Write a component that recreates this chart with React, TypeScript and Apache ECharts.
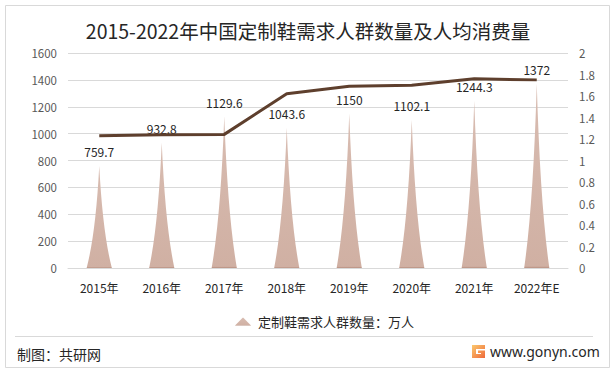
import React, { useEffect, useRef } from "react";
import * as echarts from "echarts";

const categories = ["2015年", "2016年", "2017年", "2018年", "2019年", "2020年", "2021年", "2022年E"];
const demandValues = [759.7, 932.8, 1129.6, 1043.6, 1150, 1102.1, 1244.3, 1372];
const perCapitaValues = [1.23, 1.24, 1.243, 1.62, 1.69, 1.70, 1.76, 1.75];
const leftTicks = { min: 0, max: 1600, interval: 200 };
const rightTicks = { min: 0, max: 2, interval: 0.2 };
const barName = "定制鞋需求人群数量：万人";
const lineName = "人均消费量";

const CJK = "'Noto Sans CJK SC', 'Noto Sans', sans-serif";

export default function App() {
  const ref = useRef<HTMLDivElement>(null);
  useEffect(() => {
    if (!ref.current) return;
    echarts.graphic.registerShape(
      "gonynLogo",
      echarts.graphic.extendPath("M0,0 H13 V4 H4 V9 H9 V8 H6 V5.5 H13 V13 H0 Z", {})
    );
    const chart = echarts.init(ref.current, null, { renderer: "svg" });
    const spike = "path://M0,100 Q36,66 50,0 Q64,66 100,100 Z";
    chart.setOption({
      animation: false,
      backgroundColor: "#ffffff",
      title: {
        text: "2015-2022年中国定制鞋需求人群数量及人均消费量",
        left: "center",
        top: 16,
        textStyle: { fontFamily: CJK, fontSize: 19.5, fontWeight: "normal", color: "#262626" },
      },
      grid: { left: 68, right: 48, top: 53, bottom: 106 },
      legend: {
        data: [{ name: barName, icon: "path://M0,10 Q8,2 10,0 Q12,2 20,10 Z" }],
        left: 230,
        top: 310,
        itemWidth: 20,
        itemHeight: 8,
        itemGap: 6,
        textStyle: { fontFamily: CJK, fontSize: 13, color: "#262626" },
      },
      xAxis: {
        type: "category",
        data: categories,
        axisLine: { lineStyle: { color: "#d9d9d9" } },
        axisTick: { show: false },
        axisLabel: { fontFamily: CJK, fontSize: 12, color: "#262626", margin: 13 },
      },
      yAxis: [
        {
          type: "value",
          ...leftTicks,
          axisLine: { show: false },
          axisTick: { show: false },
          splitLine: { lineStyle: { color: "#d9d9d9" } },
          axisLabel: {
            fontFamily: CJK,
            fontSize: 11.5,
            color: "#595959",
            margin: 11,
            formatter: (v: number) => String(v),
          },
        },
        {
          type: "value",
          ...rightTicks,
          axisLine: { show: false },
          axisTick: { show: false },
          splitLine: { show: false },
          axisLabel: {
            fontFamily: CJK,
            fontSize: 11.5,
            color: "#595959",
            margin: 11,
            formatter: (v: number) => String(Math.round(v * 10) / 10),
          },
        },
      ],
      series: [
        {
          name: barName,
          type: "pictorialBar",
          data: demandValues,
          symbol: spike,
          symbolSize: [25, "100%"],
          itemStyle: {
            color: new echarts.graphic.LinearGradient(0, 0, 0, 1, [
              { offset: 0, color: "#d8bcb1" },
              { offset: 0.99, color: "#d0b0a3" },
              { offset: 1, color: "#b88f80" },
            ]),
          },
          label: {
            show: true,
            position: "top",
            distance: 8,
            fontFamily: CJK,
            fontSize: 12,
            color: "#262626",
          },
          z: 2,
        },
        {
          name: lineName,
          type: "line",
          yAxisIndex: 1,
          data: perCapitaValues,
          symbol: "none",
          lineStyle: { color: "#5e3f2d", width: 3 },
          z: 3,
        },
      ],
      graphic: [
        {
          type: "rect",
          shape: { x: 5.5, y: 5.5, width: 604, height: 362 },
          style: { fill: "none", stroke: "#d9d9d9", lineWidth: 1 },
          silent: true,
        },
        {
          type: "line",
          shape: { x1: 15, y1: 336.5, x2: 593, y2: 336.5 },
          style: { stroke: "#d9d9d9", lineWidth: 1 },
          silent: true,
        },
        {
          type: "text",
          left: 17,
          top: 347,
          style: { text: "制图：共研网", fontFamily: CJK, fontSize: 14, fill: "#262626" },
        },
        {
          type: "gonynLogo",
          x: 472,
          y: 345,
          style: {
            fill: new echarts.graphic.LinearGradient(0, 0, 1, 1, [
              { offset: 0, color: "#fbc86d" },
              { offset: 1, color: "#ee6a3b" },
            ]),
          },
        },
        {
          type: "text",
          left: 490,
          top: 344,
          style: { text: "www.gonyn.com", fontFamily: "'Noto Sans', sans-serif", fontSize: 14, fill: "#262626" },
        },
      ],
    });
    return () => chart.dispose();
  }, []);
  return <div ref={ref} style={{ position: "fixed", left: 0, top: 0, width: 616, height: 374 }} />;
}
